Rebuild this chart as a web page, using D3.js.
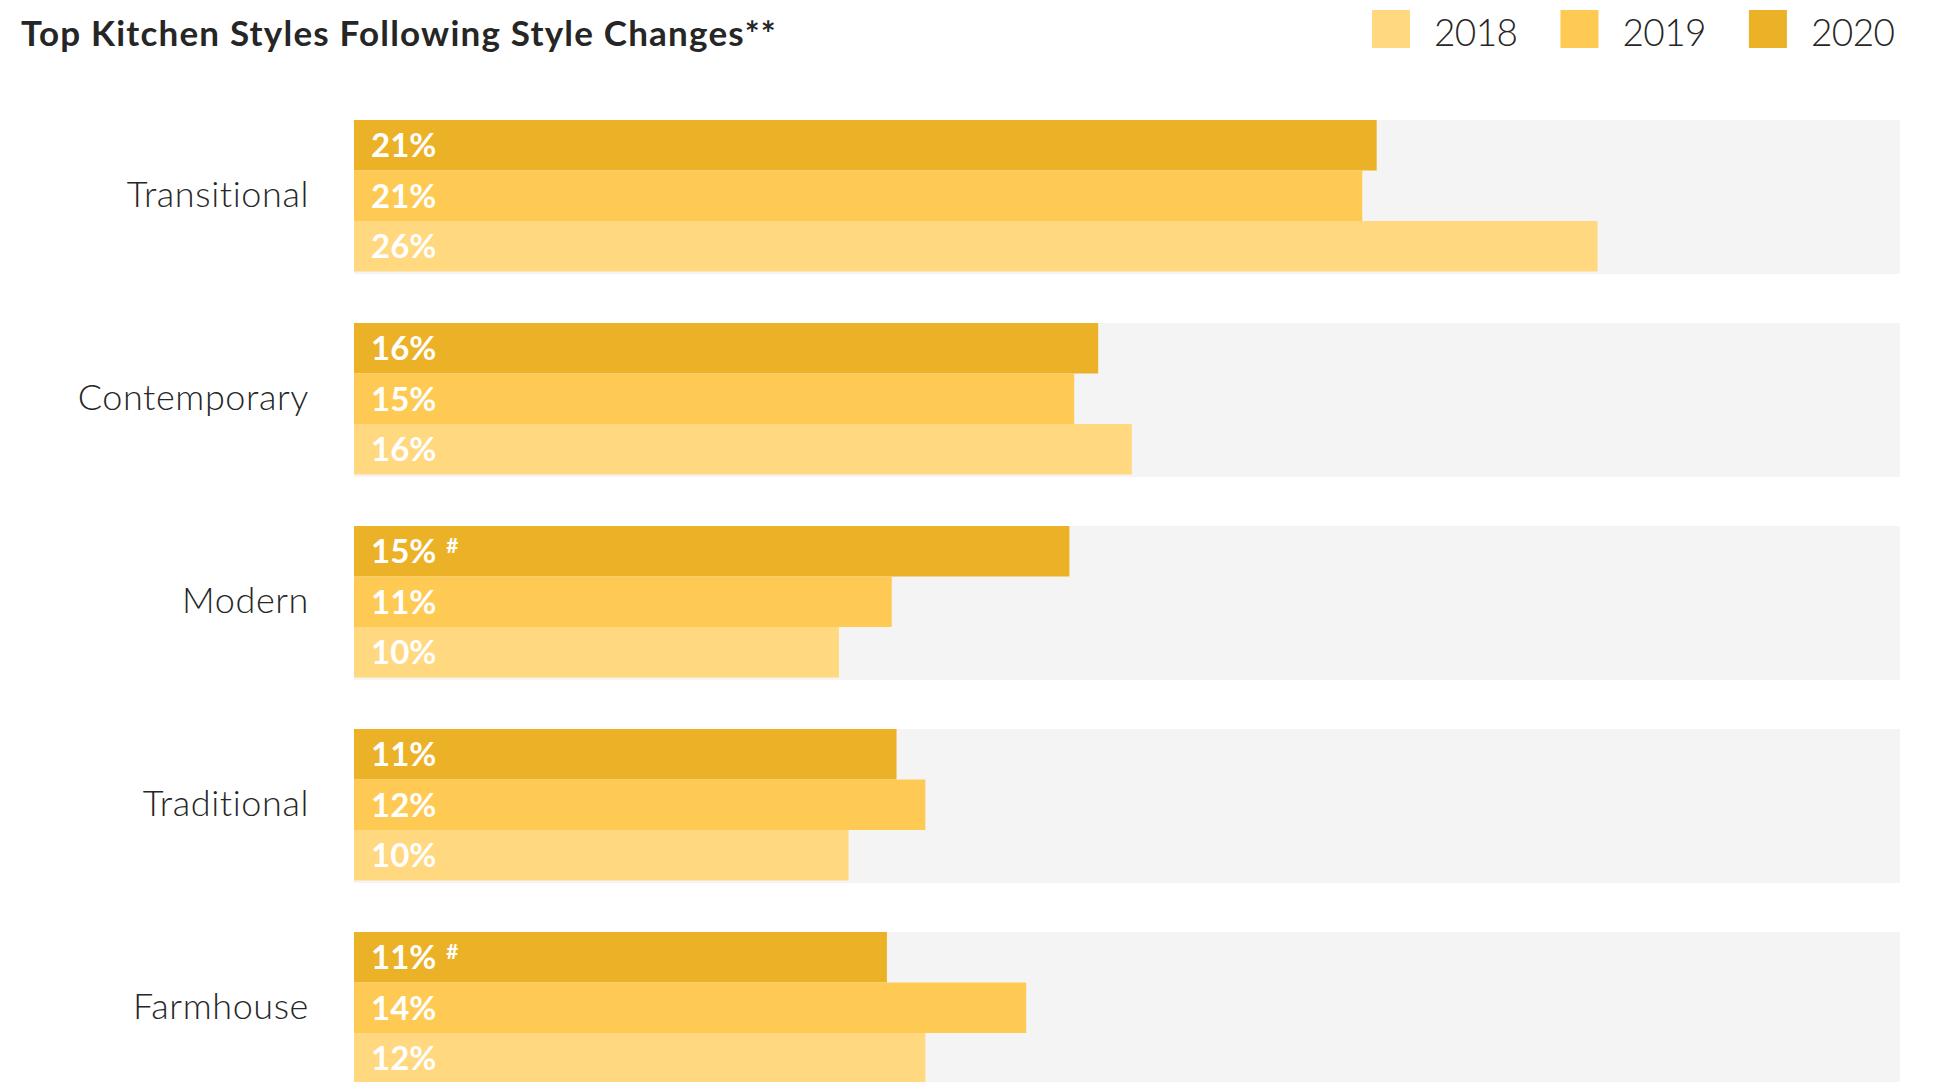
<html>
  <head>
    <meta charset="utf-8">
    <title>Top Kitchen Styles</title>
    <style>
      body { margin: 0; background: #fff; }
      svg { display: block; font-family: 'Lato', 'Open Sans', sans-serif; }
    </style>
  </head>
  <body>
    <script src="https://d3js.org/d3.v7.min.js"></script>
    <script>
      // data (percent of renovating homeowners)
      var styles = ["Transitional", "Contemporary", "Modern", "Traditional", "Farmhouse"];
      var years = ["2020", "2019", "2018"];
      var v2020 = [21.3, 15.5, 14.9, 11.3, 11.1];
      var v2019 = [21.0, 15.0, 11.2, 11.9, 14.0];
      var v2018 = [25.9, 16.2, 10.1, 10.3, 11.9];
      var notes2020 = ["", "", "#", "", "#"];
      var legendYears = ["2018", "2019", "2020"];
      var colors = { "2018": "#ffd880", "2019": "#feca53", "2020": "#ecb227" };

      var width = 1942;
      var height = 1082;
      var left = 354;
      var right = 1900;

      var rows = styles.map(function(s, i) {
        return {
          style: s,
          bars: [
            { year: "2020", value: v2020[i], note: notes2020[i] },
            { year: "2019", value: v2019[i], note: "" },
            { year: "2018", value: v2018[i], note: "" }
          ]
        };
      });

      var svg = d3.select("body")
        .append("svg")
        .attr("width", width)
        .attr("height", height);

      var x = d3.scaleLinear()
        .domain([0, 32.2])
        .range([left, right]);

      var y = d3.scaleBand()
        .domain(styles)
        .range([120, 1086])
        .paddingInner(49 / 203)
        .paddingOuter(0);

      var yInner = d3.scaleBand()
        .domain(years)
        .range([0, 151.5]);

      // title
      svg.append("text")
        .attr("x", 21)
        .attr("y", 46)
        .attr("font-size", 35)
        .attr("font-weight", 700)
        .attr("letter-spacing", 1.2)
        .attr("fill", "#262626")
        .text("Top Kitchen Styles Following Style Changes**");

      // legend
      var lx = 1372;
      legendYears.forEach(function(yr) {
        svg.append("rect")
          .attr("x", lx)
          .attr("y", 10)
          .attr("width", 38)
          .attr("height", 38)
          .attr("fill", colors[yr]);
        var t = svg.append("text")
          .attr("x", lx + 62)
          .attr("y", 46)
          .attr("font-size", 37)
          .attr("font-weight", 300)
          .attr("letter-spacing", -0.6)
          .attr("fill", "#262626")
          .text(yr);
        lx = lx + 62 + t.node().getComputedTextLength() + 43;
      });

      var groups = svg.selectAll(".group")
        .data(rows)
        .enter()
        .append("g")
        .attr("class", "group")
        .attr("transform", function(d) { return "translate(0," + y(d.style) + ")"; });

      groups.append("rect")
        .attr("x", x(0))
        .attr("y", 0)
        .attr("width", x(32.2) - x(0))
        .attr("height", y.bandwidth())
        .attr("fill", "#f4f4f4");

      groups.append("text")
        .attr("x", 309)
        .attr("y", y.bandwidth() / 2 + 10)
        .attr("text-anchor", "end")
        .attr("font-size", 36)
        .attr("font-weight", 300)
        .attr("letter-spacing", 0.6)
        .attr("fill", "#262626")
        .text(function(d) { return d.style; });

      var bars = groups.selectAll(".bar")
        .data(function(d) { return d.bars; })
        .enter()
        .append("g")
        .attr("class", "bar");

      bars.append("rect")
        .attr("x", x(0))
        .attr("y", function(d) { return yInner(d.year); })
        .attr("width", function(d) { return x(d.value) - x(0); })
        .attr("height", yInner.bandwidth())
        .attr("fill", function(d) { return colors[d.year]; });

      var labels = bars.append("text")
        .attr("x", x(0) + 17)
        .attr("y", function(d) { return yInner(d.year) + yInner.bandwidth() / 2 + 12; })
        .attr("font-size", 33)
        .attr("font-weight", 700)
        .attr("fill", "#fff");

      labels.append("tspan")
        .text(function(d) { return Math.round(d.value) + "%"; });

      labels.filter(function(d) { return d.note; })
        .append("tspan")
        .attr("dx", 10)
        .attr("dy", -10)
        .attr("font-size", 21)
        .text(function(d) { return d.note; });
    </script>
  </body>
</html>
